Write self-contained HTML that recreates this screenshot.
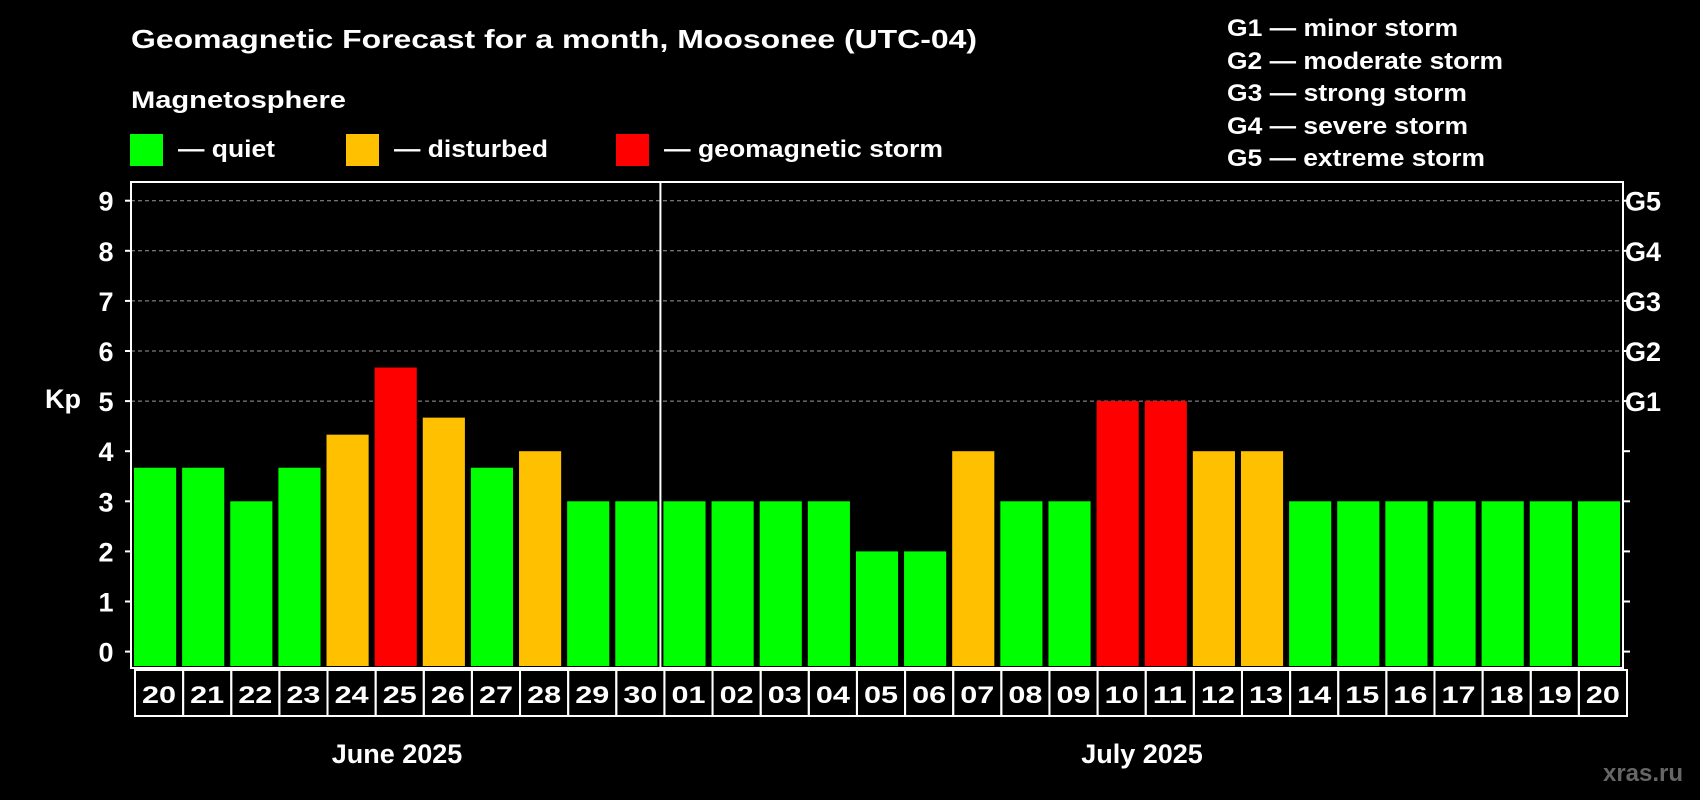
<!DOCTYPE html>
<html><head><meta charset="utf-8"><style>
html,body{margin:0;padding:0;background:#000;}
svg{display:block;font-family:"Liberation Sans",Arial,sans-serif;font-weight:bold;}
</style></head><body>
<svg id="chart" width="1700" height="800" viewBox="0 0 1700 800" xmlns="http://www.w3.org/2000/svg">
<rect x="0" y="0" width="1700" height="800" fill="#000"/>
<text x="131" y="48" fill="#fff" font-size="26" textLength="846" lengthAdjust="spacingAndGlyphs">Geomagnetic Forecast for a month, Moosonee (UTC-04)</text>
<text x="131" y="108" fill="#fff" font-size="24" textLength="215" lengthAdjust="spacingAndGlyphs">Magnetosphere</text>
<rect x="130" y="134" width="33" height="32" fill="#00ff00"/>
<text x="178" y="157" fill="#fff" font-size="24" textLength="97" lengthAdjust="spacingAndGlyphs">— quiet</text>
<rect x="346" y="134" width="33" height="32" fill="#ffc000"/>
<text x="394" y="157" fill="#fff" font-size="24" textLength="154" lengthAdjust="spacingAndGlyphs">— disturbed</text>
<rect x="616" y="134" width="33" height="32" fill="#ff0000"/>
<text x="664" y="157" fill="#fff" font-size="24" textLength="279" lengthAdjust="spacingAndGlyphs">— geomagnetic storm</text>
<text x="1227" y="36" fill="#fff" font-size="24" textLength="231" lengthAdjust="spacingAndGlyphs">G1 — minor storm</text>
<text x="1227" y="69" fill="#fff" font-size="24" textLength="276" lengthAdjust="spacingAndGlyphs">G2 — moderate storm</text>
<text x="1227" y="101" fill="#fff" font-size="24" textLength="240" lengthAdjust="spacingAndGlyphs">G3 — strong storm</text>
<text x="1227" y="134" fill="#fff" font-size="24" textLength="241" lengthAdjust="spacingAndGlyphs">G4 — severe storm</text>
<text x="1227" y="166" fill="#fff" font-size="24" textLength="258" lengthAdjust="spacingAndGlyphs">G5 — extreme storm</text>
<text x="63" y="408" fill="#fff" font-size="27" text-anchor="middle">Kp</text>
<text x="397" y="763" fill="#fff" font-size="27" text-anchor="middle">June 2025</text>
<text x="1142" y="763" fill="#fff" font-size="27" text-anchor="middle">July 2025</text>
<text x="1643" y="781" fill="#666" font-size="24" text-anchor="middle">xras.ru</text>
<g id="grid"></g><g id="bars"></g><g id="axes"></g><g id="dates"></g>
</svg>
<script>
const days = ["20","21","22","23","24","25","26","27","28","29","30","01","02","03","04","05","06","07","08","09","10","11","12","13","14","15","16","17","18","19","20"];
const kp = [3.67,3.67,3,3.67,4.33,5.67,4.67,3.67,4,3,3,3,3,3,3,2,2,4,3,3,5,5,4,4,3,3,3,3,3,3,3];
const yTicks = [0,1,2,3,4,5,6,7,8,9];
const gLabels = ["","","","","","G1","G2","G3","G4","G5"];
const monthSplitIndex = 11;

const NS = "http://www.w3.org/2000/svg";
const L = 131, R = 1623, T = 182, B = 668;
const slot = (R - L) / days.length;
function y(v){ return 651.6 - v * 50.1; }
function xs(i){ return L + i * slot; }
function mk(tag, attrs, parent){ const e = document.createElementNS(NS, tag); for (const k in attrs) e.setAttribute(k, attrs[k]); parent.appendChild(e); return e; }
function color(v){ return v >= 5 ? "#ff0000" : (v >= 4 ? "#ffc000" : "#00ff00"); }

const grid = document.getElementById("grid"), bars = document.getElementById("bars"), axes = document.getElementById("axes"), dates = document.getElementById("dates");

yTicks.forEach((t, i) => {
  if (t >= 5) {
    const g = mk("line", {x1: L, x2: R, y1: y(t), y2: y(t), stroke: "#999", "stroke-width": 1, "stroke-dasharray": "4,3"}, grid);
    
    
  }
  const tl = mk("line", {x1: L - 6, x2: L, y1: y(t), y2: y(t), stroke: "#fff", "stroke-width": 2}, axes);
  
  
  const tr = mk("line", {x1: R, x2: R + 7, y1: y(t), y2: y(t), stroke: "#fff", "stroke-width": 2}, axes);
  
  
  const lb = mk("text", {x: 106, y: y(t) + 10, fill: "#fff", "font-size": 27, "text-anchor": "middle"}, axes);
  lb.textContent = String(t);
  
  
  if (gLabels[i]) {
    const gl = mk("text", {x: 1643, y: y(t) + 10, fill: "#fff", "font-size": 27, "text-anchor": "middle"}, axes);
    gl.textContent = gLabels[i];
    
    
  }
});

kp.forEach((v, i) => {
  const b = mk("rect", {x: xs(i) + 3, y: y(v), width: slot - 6, height: B - 2 - y(v), fill: color(v)}, bars);
  
  
});

const frame = mk("rect", {x: L, y: T, width: R - L, height: B - T, fill: "none", stroke: "#fff", "stroke-width": 2}, axes);


const sep = mk("line", {x1: xs(monthSplitIndex), x2: xs(monthSplitIndex), y1: T, y2: B, stroke: "#fff", "stroke-width": 2}, axes);



days.forEach((d, i) => {
  const c = mk("rect", {x: xs(i) + 4, y: 670, width: slot, height: 46, fill: "none", stroke: "#fff", "stroke-width": 2}, dates);
  
  
  const t = mk("text", {x: xs(i) + 4 + slot / 2, y: 703, fill: "#fff", "font-size": 24, "text-anchor": "middle", textLength: 34, lengthAdjust: "spacingAndGlyphs"}, dates);
  t.textContent = d;
  
  
});
</script>
</body></html>
